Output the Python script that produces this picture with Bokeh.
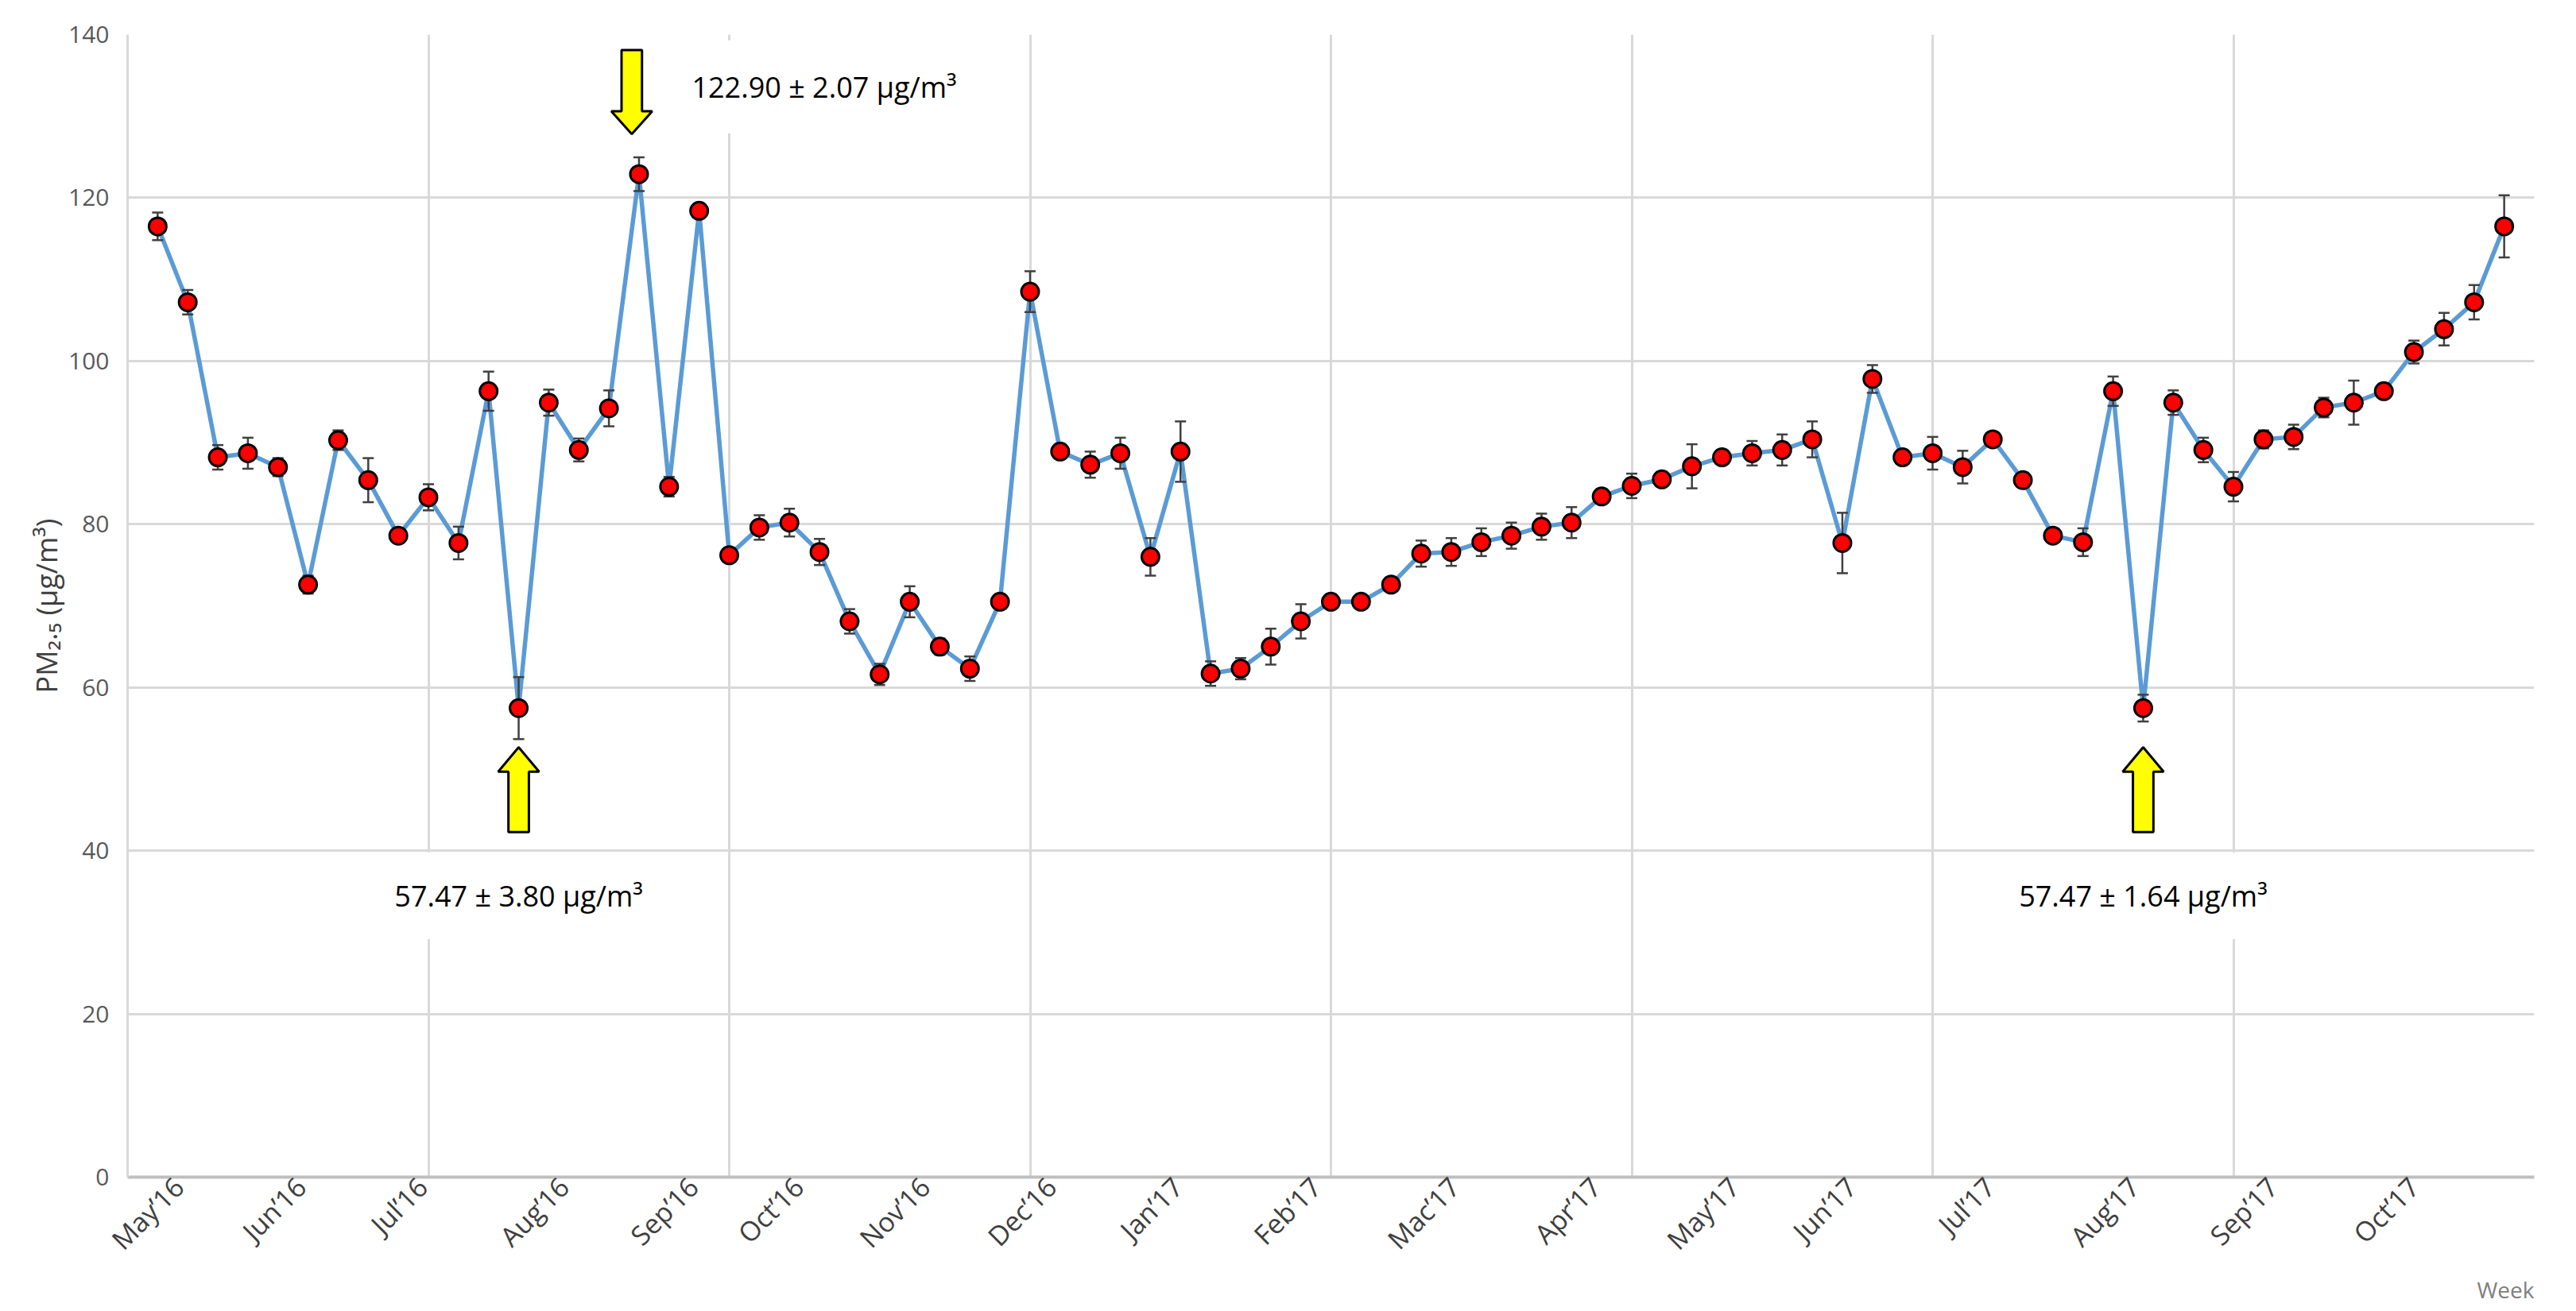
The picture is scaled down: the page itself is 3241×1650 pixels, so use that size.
import math
from bokeh.plotting import figure
from bokeh.models import Range1d, FixedTicker, Label, ColumnDataSource, Title
from bokeh.embed import file_html
from bokeh.resources import INLINE

# ---------------- data ----------------
weeks = list(range(1, 80))
pm25 = [116.5, 107.2, 88.2, 88.7, 87.0, 72.6, 90.3, 85.4, 78.6, 83.3,
        77.7, 96.3, 57.47, 94.9, 89.1, 94.2, 122.90, 84.6, 118.4, 76.2,
        79.6, 80.2, 76.6, 68.1, 61.6, 70.5, 65.0, 62.3, 70.5, 108.5,
        88.9, 87.3, 88.7, 76.0, 88.9, 61.7, 62.3, 65.0, 68.1, 70.5,
        70.5, 72.6, 76.4, 76.6, 77.8, 78.6, 79.7, 80.2, 83.4, 84.7,
        85.5, 87.1, 88.2, 88.7, 89.1, 90.4, 77.7, 97.8, 88.2, 88.7,
        87.0, 90.4, 85.4, 78.6, 77.8, 96.3, 57.47, 94.9, 89.1, 84.6,
        90.4, 90.7, 94.3, 94.9, 96.3, 101.1, 103.9, 107.2, 116.5]
pm25_err = [1.7, 1.5, 1.5, 1.9, 1.1, 1.1, 1.2, 2.7, 0.9, 1.6,
            2.0, 2.4, 3.80, 1.6, 1.4, 2.2, 2.07, 1.2, 0.8, 0.5,
            1.5, 1.7, 1.6, 1.5, 1.3, 1.9, 1.0, 1.5, 0.5, 2.5,
            0.8, 1.6, 1.9, 2.3, 3.7, 1.5, 1.3, 2.2, 2.1, 0.5,
            0.5, 0.5, 1.6, 1.7, 1.7, 1.6, 1.6, 1.9, 0.7, 1.5,
            0.8, 2.7, 0.5, 1.5, 1.9, 2.2, 3.7, 1.7, 0.5, 2.0,
            2.0, 0.8, 0.5, 0.5, 1.7, 1.8, 1.64, 1.5, 1.5, 1.8,
            1.1, 1.5, 1.2, 2.7, 0.7, 1.4, 2.0, 2.1, 3.8]
month_labels = ["May’16", "Jun’16", "Jul’16", "Aug’16", "Sep’16", "Oct’16",
                "Nov’16", "Dec’16", "Jan’17", "Feb’17", "Mac’17", "Apr’17",
                "May’17", "Jun’17", "Jul’17", "Aug’17", "Sep’17", "Oct’17"]
month_weeks = [1.7, 5.76, 9.8, 14.5, 18.8, 22.3, 26.5, 30.7, 34.9, 39.5,
               44.1, 48.8, 53.4, 57.3, 61.9, 66.7, 71.3, 76.0]
y_ticks = [0, 20, 40, 60, 80, 100, 120, 140]
grid_weeks = [10, 20, 30, 40, 50, 60, 70, 80]

FONT = "Open Sans"

src = ColumnDataSource(dict(
    week=weeks, pm=pm25,
    lo=[v - e for v, e in zip(pm25, pm25_err)],
    hi=[v + e for v, e in zip(pm25, pm25_err)],
))

p = figure(width=3225, height=1642, output_backend="svg", toolbar_location=None,
           x_range=Range1d(0, 80), y_range=Range1d(0, 140),
           min_border_left=160, min_border_right=37,
           min_border_top=43, min_border_bottom=161)
p.outline_line_color = None
p.background_fill_color = "white"

# grids
p.xgrid.ticker = FixedTicker(ticks=grid_weeks)
p.ygrid.ticker = FixedTicker(ticks=y_ticks)
for g in (p.xgrid, p.ygrid):
    g.grid_line_color = "#d9d9d9"
    g.grid_line_width = 3

# y axis
p.yaxis.ticker = FixedTicker(ticks=y_ticks)
p.yaxis.axis_line_color = "#d9d9d9"
p.yaxis.axis_line_width = 3
p.yaxis.major_tick_line_color = None
p.yaxis.minor_tick_line_color = None
p.yaxis.major_tick_out = 0
p.yaxis.major_label_standoff = 23
p.yaxis.major_label_text_font = FONT
p.yaxis.major_label_text_font_size = "30px"
p.yaxis.major_label_text_color = "#595959"
p.yaxis.axis_label = "PM₂.₅ (µg/m³)"
p.yaxis.axis_label_text_font = FONT
p.yaxis.axis_label_text_font_size = "36px"
p.yaxis.axis_label_text_font_style = "normal"
p.yaxis.axis_label_text_color = "#404040"
p.yaxis.axis_label_standoff = 0

# x axis
p.xaxis.ticker = FixedTicker(ticks=month_weeks)
p.xaxis.major_label_overrides = {w: lab for w, lab in zip(month_weeks, month_labels)}
p.xaxis.axis_line_color = "#bfbfbf"
p.xaxis.axis_line_width = 4
p.xaxis.major_tick_line_color = None
p.xaxis.minor_tick_line_color = None
p.xaxis.major_tick_out = 0
p.xaxis.major_label_standoff = 6
p.xaxis.major_label_orientation = math.pi / 4
p.xaxis.major_label_text_font = FONT
p.xaxis.major_label_text_font_size = "34px"
p.xaxis.major_label_text_color = "#404040"

# "Week" note under the axis, right aligned
p.add_layout(Title(text="Week", align="right", text_font=FONT,
                   text_font_size="28px", text_font_style="normal",
                   text_color="#7f7f7f", standoff=0), "below")

# series
p.line("week", "pm", source=src, line_color="#5B9BD5", line_width=5.5)
p.segment(x0="week", y0="lo", x1="week", y1="hi", source=src,
          line_color="#404040", line_width=2.5)
p.scatter("week", "lo", source=src, marker="dash", size=14,
          line_color="#404040", line_width=2.5)
p.scatter("week", "hi", source=src, marker="dash", size=14,
          line_color="#404040", line_width=2.5)
p.scatter("week", "pm", source=src, size=22, fill_color="#FF0000",
          line_color="black", line_width=3)

# annotations: arrows and labels on the extreme weeks
i_max = max(range(len(pm25)), key=lambda i: pm25[i])
vmin = min(pm25)
i_mins = [i for i, v in enumerate(pm25) if v == vmin]

HW, HH = 0.34, 0.68
arrow_xs, arrow_ys = [], []
cx = weeks[i_max] - 0.24
v = pm25[i_max]
arrow_xs.append([cx - HW, cx + HW, cx + HW, cx + HH, cx, cx - HH, cx - HW])
arrow_ys.append([v + 15.2, v + 15.2, v + 7.7, v + 7.7, v + 4.9, v + 7.7, v + 7.7])
for i in i_mins:
    cx = weeks[i]
    v = pm25[i]
    arrow_xs.append([cx - HW, cx + HW, cx + HW, cx + HH, cx, cx - HH, cx - HW])
    arrow_ys.append([v - 15.2, v - 15.2, v - 7.8, v - 7.8, v - 4.8, v - 7.8, v - 7.8])
p.patches(arrow_xs, arrow_ys, fill_color="#FFFF00", line_color="black", line_width=3)


def note(i):
    return f"{pm25[i]:.2f} ± {pm25_err[i]:.2f} µg/m³"


# padding tuple is (horizontal, vertical)
p.add_layout(Label(x=weeks[i_max] + 0.7, y=133.6, text=note(i_max),
                   text_align="left", text_baseline="middle",
                   text_font=FONT, text_font_size="36px", text_color="black",
                   background_fill_color="white", padding=(40, 34)))
for i in i_mins:
    p.add_layout(Label(x=weeks[i], y=34.5, text=note(i),
                       text_align="center", text_baseline="middle",
                       text_font=FONT, text_font_size="36px", text_color="black",
                       background_fill_color="white", padding=(40, 30)))

open("out.html", "w").write(file_html(p, INLINE))
